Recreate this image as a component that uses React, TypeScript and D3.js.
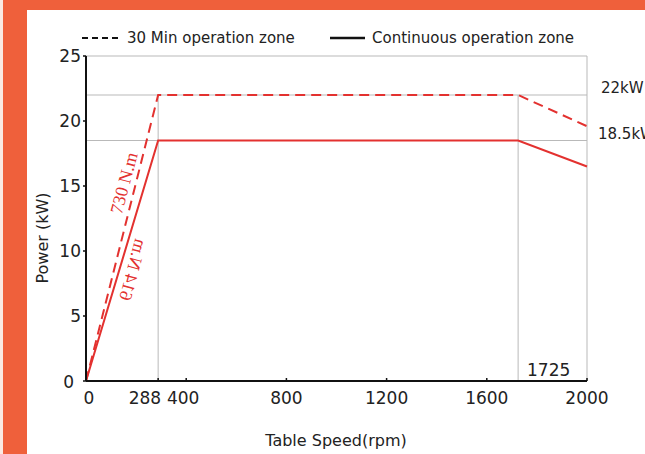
import React from "react";
import * as d3 from "d3";

const xTicks = [0, 288, 400, 800, 1200, 1600, 2000];
const yTicks = [0, 5, 10, 15, 20, 25];
const continuousSpeed = [0, 288, 1725, 2000];
const continuousPower = [0, 18.5, 18.5, 16.5];
const thirtyMinSpeed = [0, 288, 1725, 2000];
const thirtyMinPower = [0, 22, 22, 19.6];
const levelLabels = ["22kW", "18.5kW"];
const levelValues = [22, 18.5];
const torqueLabels = ["730 N.m", "614 N.m"];
const cornerSpeed = 1725;
const baseSpeed = 288;

const W = 645;
const H = 454;
const RED = "#e3312f";
const GRID = "#b9b9b9";
const FONT = "'DejaVu Sans', 'Open Sans', sans-serif";
const SERIF = "'Liberation Serif', 'DejaVu Serif', serif";

export default function App() {
  React.useEffect(() => {
    document.body.style.margin = "0";
  }, []);
  const x = d3.scaleLinear().domain([0, 2000]).range([86, 587]);
  const y = d3.scaleLinear().domain([0, 25]).range([381, 56]);
  const line = d3
    .line<[number, number]>()
    .x((d) => x(d[0]))
    .y((d) => y(d[1]));
  const cont = continuousSpeed.map((s, i) => [s, continuousPower[i]] as [number, number]);
  const tmin = thirtyMinSpeed.map((s, i) => [s, thirtyMinPower[i]] as [number, number]);

  const xLabelPos = (t: number) => {
    if (t === 0) return { x: x(t) + 3, anchor: "middle" };
    if (t === baseSpeed) return { x: x(t) + 3, anchor: "end" };
    if (t === 400) return { x: x(t) - 3, anchor: "middle" };
    return { x: x(t), anchor: "middle" };
  };

  return (
    <svg width={W} height={H} style={{ position: "absolute", left: 0, top: 0, display: "block" }}>
      <rect x={0} y={0} width={W} height={H} fill="#fbe9e2" />
      <rect x={3} y={0} width={W - 3} height={H} fill="#ef603b" />
      <rect x={27} y={10} width={W - 27} height={H - 10} fill="#ffffff" />

      {/* grid lines */}
      <line x1={x(0)} x2={x(2000)} y1={y(25)} y2={y(25)} stroke={GRID} strokeWidth={1} />
      {levelValues.map((v) => (
        <line key={v} x1={x(0)} x2={x(2000)} y1={y(v)} y2={y(v)} stroke={GRID} strokeWidth={1} />
      ))}
      <line x1={x(baseSpeed)} x2={x(baseSpeed)} y1={y(0)} y2={y(22)} stroke={GRID} strokeWidth={1} />
      <line x1={x(cornerSpeed)} x2={x(cornerSpeed)} y1={y(0)} y2={y(22)} stroke={GRID} strokeWidth={1} />
      <line x1={x(2000)} x2={x(2000)} y1={y(0)} y2={y(25)} stroke={GRID} strokeWidth={1} />

      {/* data lines */}
      <path d={line(tmin) || ""} fill="none" stroke={RED} strokeWidth={2} strokeDasharray="10,6" />
      <path d={line(cont) || ""} fill="none" stroke={RED} strokeWidth={2} />

      {/* axes */}
      <line x1={x(0)} x2={x(0)} y1={y(0)} y2={y(25)} stroke="#111" strokeWidth={2} />
      <line x1={x(0)} x2={x(2000)} y1={y(0)} y2={y(0)} stroke="#111" strokeWidth={2} />
      {yTicks.map((t) => (
        <g key={"y" + t}>
          <line x1={x(0) - 3} x2={x(0)} y1={y(t)} y2={y(t)} stroke="#111" strokeWidth={1.5} />
          <text
            x={t === 0 ? 74 : 81}
            y={y(t) + (t === 0 ? 7 : 6)}
            textAnchor="end"
            fontFamily={FONT}
            fontSize={17}
            fill="#222"
          >
            {t}
          </text>
        </g>
      ))}
      {xTicks.map((t) => {
        const p = xLabelPos(t);
        return (
          <g key={"x" + t}>
            <line x1={x(t)} x2={x(t)} y1={y(0)} y2={y(0) - 3} stroke="#111" strokeWidth={1.5} />
            <text x={p.x} y={404} textAnchor={p.anchor} fontFamily={FONT} fontSize={17} fill="#222">
              {t}
            </text>
          </g>
        );
      })}

      {/* right labels */}
      {levelLabels.map((l, i) => (
        <text
          key={l}
          x={i === 0 ? 601 : 598}
          y={y(levelValues[i]) - 2}
          fontFamily={FONT}
          fontSize={15}
          fill="#222"
        >
          {l}
        </text>
      ))}
      <text x={527} y={376} fontFamily={FONT} fontSize={17} fill="#222">
        {cornerSpeed}
      </text>

      {/* torque annotations */}
      <text
        transform={`translate(124,183) rotate(-75)`}
        textAnchor="middle"
        dominantBaseline="central"
        fontFamily={SERIF}
        fontSize={18}
        fill={RED}
      >
        {torqueLabels[0]}
      </text>
      <text
        transform={`translate(133,270) rotate(-75) scale(1,-1)`}
        textAnchor="middle"
        dominantBaseline="central"
        fontFamily={SERIF}
        fontSize={18}
        fill={RED}
      >
        {torqueLabels[1]}
      </text>

      {/* legend */}
      <line x1={82} x2={120} y1={38} y2={38} stroke="#111" strokeWidth={2} strokeDasharray="6,4" />
      <text x={127} y={43} fontFamily={FONT} fontSize={15} fill="#222">
        30 Min operation zone
      </text>
      <line x1={330} x2={365} y1={38} y2={38} stroke="#111" strokeWidth={2.5} />
      <text x={372} y={43} fontFamily={FONT} fontSize={15} fill="#222">
        Continuous operation zone
      </text>

      {/* axis titles */}
      <text x={336} y={446} textAnchor="middle" fontFamily={FONT} fontSize={16} fill="#222">
        Table Speed(rpm)
      </text>
      <text
        transform={`translate(48,238) rotate(-90)`}
        textAnchor="middle"
        fontFamily={FONT}
        fontSize={16}
        fill="#222"
      >
        Power (kW)
      </text>
    </svg>
  );
}
